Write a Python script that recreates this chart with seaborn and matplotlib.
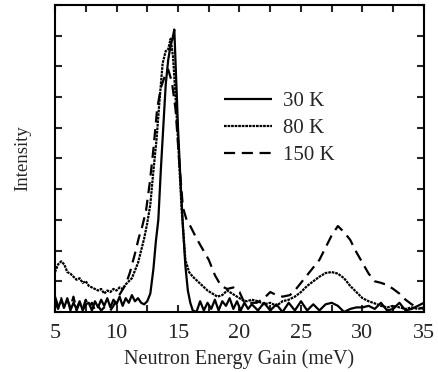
import matplotlib
matplotlib.use("Agg")
import matplotlib.pyplot as plt
import seaborn as sns
import pandas as pd
from matplotlib.ticker import MultipleLocator, NullFormatter

# ---- data ----
E30 = [5.0,5.25,5.5,5.75,6.0,6.25,6.5,6.75,7.0,7.25,7.5,7.75,8.0,8.25,8.5,8.75,9.0,9.25,9.5,9.75,
       10.0,10.25,10.5,10.75,11.0,11.25,11.5,11.75,12.0,12.25,12.5,12.75,13.0,13.2,13.4,13.6,13.8,
       14.0,14.2,14.4,14.55,14.7,14.85,15.0,15.2,15.4,15.6,15.8,16.0,16.2,16.5,16.8,17.1,17.4,17.7,
       18.0,18.3,18.6,18.9,19.2,19.5,19.8,20.1,20.4,20.7,21.0,21.5,22.0,22.5,23.0,23.5,24.0,24.5,
       25.0,25.5,26.0,26.5,27.0,27.5,28.0,28.5,29.0,29.5,30.0,30.5,31.0,31.5,32.0,32.5,33.0,33.5,
       34.0,34.5,35.0]
I30 = [0.35,0.1,0.4,0.15,0.45,0.05,0.3,0.1,0.35,0.05,0.25,0.3,0.05,0.35,0.15,0.4,0.2,0.45,0.15,0.4,
       0.25,0.5,0.2,0.45,0.3,0.55,0.35,0.45,0.3,0.25,0.35,0.6,1.4,2.3,3.0,4.6,6.0,
       7.4,8.2,8.7,8.9,9.2,7.6,6.0,4.3,2.8,1.5,0.7,0.3,0.05,0.0,0.35,0.05,0.3,0.1,
       0.4,0.05,0.35,0.2,0.45,0.1,0.35,0.05,0.3,0.1,0.25,0.05,0.3,0.05,0.25,0.0,0.3,0.05,
       0.35,0.05,0.25,0.05,0.25,0.3,0.2,0.0,0.1,0.15,0.15,0.2,0.1,0.3,0.05,0.1,0.3,0.05,
       0.1,0.2,0.3]

E80 = [5.0,5.25,5.5,5.75,6.0,6.25,6.5,6.75,7.0,7.25,7.5,7.75,8.0,8.25,8.5,8.75,9.0,9.25,9.5,9.75,
       10.0,10.25,10.5,10.75,11.0,11.25,11.5,11.75,12.0,12.25,12.5,12.75,13.0,13.25,13.5,13.75,
       14.0,14.2,14.4,14.6,14.8,15.0,15.3,15.6,15.9,16.2,16.6,17.0,17.4,17.8,18.2,18.6,19.0,19.4,
       19.8,20.2,20.6,21.0,21.5,22.0,22.5,23.0,23.5,24.0,24.5,25.0,25.5,26.0,26.5,27.0,27.5,28.0,
       28.5,29.0,29.5,30.0,30.5,31.0,31.5,32.0,32.5,33.0,33.5,34.0,34.5,35.0]
I80 = [1.3,1.55,1.65,1.55,1.3,1.25,1.15,1.05,1.1,0.95,1.0,0.85,0.8,0.75,0.7,0.75,0.6,0.7,0.65,0.75,
       0.7,0.8,0.75,0.9,1.0,1.1,1.35,1.6,2.0,2.4,2.9,3.5,4.6,5.6,6.9,8.1,
       8.5,8.55,8.9,8.3,7.0,5.6,3.3,1.7,1.3,1.15,1.0,0.85,0.7,0.6,0.5,0.55,0.7,0.6,
       0.5,0.4,0.35,0.4,0.35,0.25,0.3,0.2,0.35,0.4,0.5,0.65,0.85,1.0,1.15,1.27,1.3,1.25,
       1.1,0.85,0.65,0.45,0.35,0.28,0.2,0.15,0.2,0.15,0.1,0.15,0.1,0.15]

E150 = [5.0,5.25,5.5,5.75,6.0,6.25,6.5,6.75,7.0,7.25,7.5,7.75,8.0,8.25,8.5,8.75,9.0,9.25,9.5,9.75,
        10.0,10.3,10.6,10.8,11.1,11.5,11.8,12.1,12.4,12.7,13.0,13.3,13.6,13.9,14.2,14.5,14.8,15.1,
        15.4,15.7,16.0,16.5,17.0,17.5,18.0,18.5,19.0,19.5,20.0,20.4,20.8,21.4,22.0,22.5,23.0,23.5,
        24.1,24.5,25.0,25.5,26.0,26.5,27.0,27.5,28.0,28.5,29.0,29.5,30.0,30.5,31.0,31.5,32.0,32.5,
        33.0,33.5,34.0,34.5,35.0]
I150 = [0.5,0.2,0.45,0.1,0.4,0.15,0.5,0.05,0.3,0.1,0.4,0.15,0.3,0.05,0.2,0.05,0.15,0.05,0.05,0.2,
        0.4,0.6,0.8,0.95,1.3,1.9,2.4,2.8,3.3,4.2,5.3,6.6,7.3,7.65,7.9,7.5,6.6,4.9,
        3.4,3.0,2.8,2.4,2.05,1.7,1.2,0.85,0.75,0.8,0.65,0.3,0.3,0.3,0.45,0.65,0.55,0.5,
        0.55,0.7,0.95,1.2,1.45,1.7,2.1,2.5,2.8,2.6,2.35,1.95,1.6,1.25,1.0,0.95,0.88,0.75,
        0.6,0.4,0.25,0.15,0.1]

labels = ["30 K", "80 K", "150 K"]
x_label = "Neutron Energy Gain (meV)"
y_label = "Intensity"

# ---- style ----
sns.set_style("ticks")
plt.rcParams["font.family"] = ["Liberation Serif", "DejaVu Serif"]

fig = plt.figure(figsize=(4.38, 3.72), dpi=100)
ax = fig.add_axes([0.1256, 0.1613, 0.8424, 0.8253])

series = [(E30, I30, (0, ()), labels[0]),
          (E80, I80, (0, (1.2, 0.4)), labels[1]),
          (E150, I150, (0, (5, 3)), labels[2])]
for E, I, ls, lab in series:
    df = pd.DataFrame({"E": E, "I": I})
    sns.lineplot(data=df, x="E", y="I", ax=ax, color="black", linewidth=1.6,
                 linestyle=ls, label=lab, sort=False, estimator=None)

ax.set_xlim(5, 35)
ax.set_ylim(0, 10)
ax.xaxis.set_major_locator(MultipleLocator(5))
ax.xaxis.set_minor_locator(MultipleLocator(2.5))
ax.yaxis.set_major_locator(MultipleLocator(1))
ax.yaxis.set_major_formatter(NullFormatter())
ax.tick_params(which="both", direction="in", top=True, right=True, length=5, width=1.5,
               labelsize=16, pad=9)
for sp in ax.spines.values():
    sp.set_linewidth(1.5)
    sp.set_color("black")

ax.set_xlabel(x_label, fontsize=14.5, labelpad=4)
ax.set_ylabel(y_label, fontsize=13.5, labelpad=8)

leg = ax.legend(loc="upper left", bbox_to_anchor=(0.435, 0.745), frameon=False,
                fontsize=15, handlelength=2.3, handletextpad=0.55, labelspacing=0.35,
                borderaxespad=0)
for h in leg.get_lines():
    h.set_linewidth(1.6)

fig.savefig("out.png", dpi=100)
